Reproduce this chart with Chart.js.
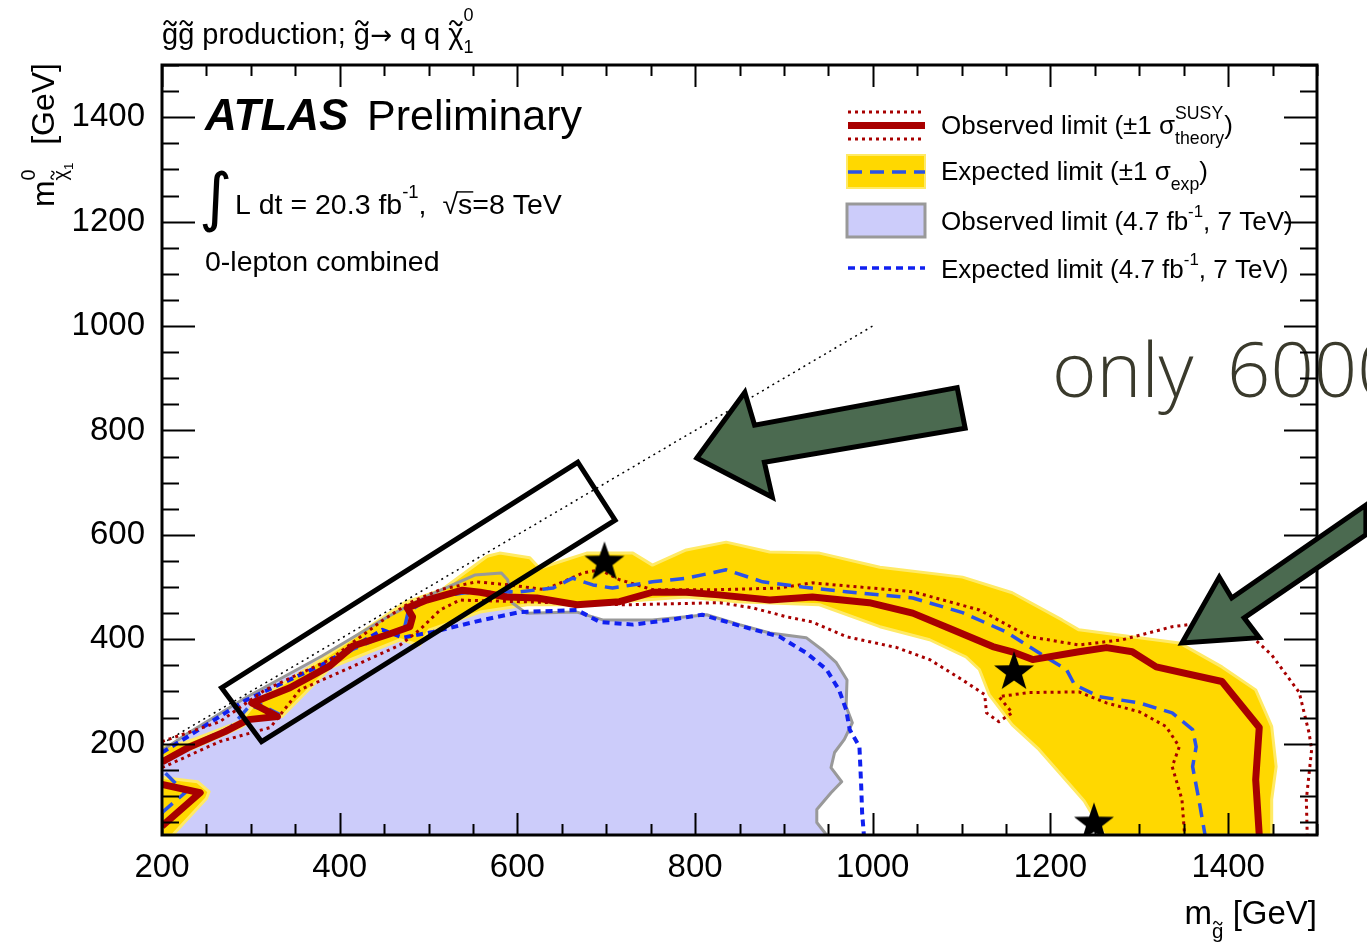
<!DOCTYPE html>
<html>
<head>
<meta charset="utf-8">
<script src="https://cdn.jsdelivr.net/npm/chart.js@4/dist/chart.umd.min.js"></script>
<style>
  html, body { margin: 0; padding: 0; background: #fff; overflow: hidden; }
</style>
</head>
<body>
<canvas id="limitChart" width="1367" height="943"></canvas>
<script>
// axis ranges and tick labels (GeV)
const xTickLabels = [200, 400, 600, 800, 1000, 1200, 1400];
const yTickLabels = [200, 400, 600, 800, 1000, 1200, 1400];

// contours as [m_gluino, m_neutralino] in GeV
const kinematicLimit = [[200, 200], [1000, 1000]];

const obs7TeV = [[200,187],[222,212],[293,287],[380,368],[454,443],[498,482],[552,523],[582,527],[589,514],[594,470],[610,450],[667,452],[696,437],[752,437],[790,443],[813,447],[850,428],[884,412],[925,403],[943,380],[959,355],[971,322],[970,271],[977,240],[968,208],[957,183],[953,154],[965,127],[953,106],[937,74],[937,49],[948,25]];

const exp7TeV = [[200,183],[222,206],[293,282],[381,352],[448,418],[471,403],[505,414],[561,437],[603,452],[667,456],[693,433],[730,428],[771,437],[808,447],[850,426],[895,405],[925,374],[948,342],[962,303],[970,265],[974,227],[985,194],[986,156],[987,118],[988,68],[990,25]];

const expBandUpper = [[200,192],[229,204],[288,242],[308,284],[387,370],[473,470],[515,495],[566,559],[580,565],[614,556],[625,536],[678,565],[730,565],[752,542],[790,571],[835,586],[884,567],[940,565],[1008,538],[1101,519],[1157,489],[1213,437],[1232,418],[1300,403],[1345,393],[1393,347],[1431,303],[1449,233],[1454,156],[1449,93],[1449,25]];
const expBandLower = [[1261,25],[1238,90],[1187,189],[1157,236],[1131,294],[1120,342],[1105,366],[1064,399],[1008,424],[940,466],[847,472],[790,481],[715,472],[667,466],[611,466],[558,452],[501,418],[490,389],[468,399],[389,345],[335,252],[305,250],[288,231],[232,189],[200,173]];
const expBandCorner = [[200,25],[212,25],[250,95],[253,108],[240,127],[200,135]];

const expLimit = [[200,166],[232,196],[277,231],[299,273],[331,257],[305,280],[350,311],[389,353],[414,380],[451,407],[473,422],[477,452],[501,479],[541,489],[603,491],[640,498],[662,517],[685,504],[707,498],[752,510],[790,517],[835,533],[876,510],[921,500],[970,491],[1045,479],[1101,451],[1150,414],[1187,374],[1218,342],[1227,313],[1255,290],[1300,278],[1337,259],[1360,227],[1364,194],[1360,156],[1367,93],[1374,25]];
const expLimitCorner = [[200,68],[226,106],[203,145]];

const obsLimit = [[200,165],[229,192],[271,223],[297,246],[330,252],[301,278],[344,307],[389,349],[415,387],[456,410],[479,424],[482,443],[476,460],[498,475],[538,494],[558,490],[588,481],[622,479],[667,466],[715,472],[752,490],[790,490],[827,485],[884,475],[932,481],[996,470],[1045,450],[1090,418],[1135,386],[1157,376],[1180,361],[1232,376],[1263,384],[1292,376],[1319,347],[1393,319],[1435,231],[1431,131],[1435,25]];
const obsLimitCorner = [[200,42],[243,106],[200,122]];

const obsUp = [[200,204],[265,242],[316,303],[389,361],[449,437],[479,470],[513,495],[554,510],[591,504],[631,495],[674,527],[693,533],[715,514],[752,495],[828,495],[895,498],[932,508],[1045,491],[1120,456],[1176,405],[1232,389],[1281,399],[1337,424],[1379,433],[1424,409],[1449,370],[1480,298],[1491,221],[1494,189],[1488,93],[1489,25]];
const obsDown = [[200,154],[265,204],[322,231],[355,303],[411,345],[468,389],[490,418],[513,456],[535,475],[603,472],[723,466],[828,470],[865,460],[903,443],[932,433],[970,405],[1027,384],[1064,361],[1101,322],[1126,294],[1128,259],[1142,242],[1157,259],[1142,290],[1176,298],[1232,299],[1263,278],[1300,261],[1330,233],[1345,194],[1337,156],[1348,93],[1351,25]];

const starPoints = [[698,551],[1159,341],[1249,51]];

// slide annotations, in the same GeV coordinates
const boxCorners = [[267,307],[668,739],[710,628],[312,204]];
const arrowLeft = [[802,747],[856,873],[867,810],[1095,882],[1104,804],[878,739],[887,672]];
const arrowRight = [[1348,393],[1390,519],[1404,479],[1555,657],[1555,600],[1418,441],[1435,403]];

const FONT = '"Liberation Sans", Arial, Helvetica, sans-serif';
const RED = '#a80000';
const YELLOW = '#ffd800';
const YELLOW_EDGE = '#ffea66';
const BLUE_EXP = '#2a52e8';
const BLUE_OLD = '#1020f0';
const LAVENDER = '#ccccfa';

const toPts = arr => arr.map(p => ({ x: p[0], y: p[1] }));

function makeStar(r) {
    const c = document.createElement('canvas');
    c.width = c.height = 2 * r + 2;
    const g = c.getContext('2d');
    g.beginPath();
    for (let i = 0; i < 10; i++) {
        const a = -Math.PI / 2 + i * Math.PI / 5;
        const rr = i % 2 ? r * 0.4 : r;
        g.lineTo(r + 1 + rr * Math.cos(a), r + 1 + rr * Math.sin(a) + r * 0.1);
    }
    g.closePath();
    g.fillStyle = '#000';
    g.fill();
    return c;
}

function lineSet(label, arr, color, width, dash, order) {
    return {
        label, data: toPts(arr), showLine: true, borderColor: color, borderWidth: width,
        borderDash: dash || [], borderJoinStyle: 'round', pointRadius: 0, fill: false, tension: 0, order
    };
}
function areaSet(label, arr, color, edge, order) {
    return { label, data: toPts(arr), showLine: false, pointRadius: 0, areaColor: color, areaEdge: edge, order };
}

// fills the closed polygon of datasets flagged with areaColor
const areaPlugin = {
    id: 'areaFill',
    beforeDatasetDraw(chart, args) {
        const ds = chart.data.datasets[args.index];
        if (!ds.areaColor) return;
        const ctx = chart.ctx, a = chart.chartArea;
        ctx.save();
        ctx.beginPath();
        ctx.rect(a.left, a.top, a.right - a.left, a.bottom - a.top);
        ctx.clip();
        ctx.beginPath();
        args.meta.data.forEach((pt, i) => i ? ctx.lineTo(pt.x, pt.y) : ctx.moveTo(pt.x, pt.y));
        ctx.closePath();
        ctx.fillStyle = ds.areaColor;
        ctx.fill();
        if (ds.areaEdge) {
            ctx.strokeStyle = ds.areaEdge;
            ctx.lineWidth = 3;
            ctx.lineJoin = 'round';
            ctx.stroke();
        }
        ctx.restore();
    }
};

function fontOf(p, base) {
    return (p.f || '') + ' ' + (base * (p.s || 1)).toFixed(1) + 'px ' + (p.ff || FONT);
}
function drawTilde(ctx, cx, cy, w) {
    const h = w * 0.28;
    ctx.save();
    ctx.lineWidth = Math.max(1.2, w * 0.16);
    ctx.beginPath();
    ctx.moveTo(cx - w / 2, cy + h / 2);
    ctx.bezierCurveTo(cx - w / 3, cy - h * 1.3, cx - w / 8, cy - h * 0.6, cx, cy);
    ctx.bezierCurveTo(cx + w / 8, cy + h * 0.6, cx + w / 3, cy + h * 1.3, cx + w / 2, cy - h / 2);
    ctx.stroke();
    ctx.restore();
}
function richWidth(ctx, parts, base) {
    let w = 0;
    for (const p of parts) {
        ctx.font = fontOf(p, base);
        if (p.adv !== false) w += ctx.measureText(p.t).width;
    }
    return w;
}
function drawRich(ctx, x, y, parts, base, align) {
    let cx = align === 'right' ? x - richWidth(ctx, parts, base) : x;
    for (const p of parts) {
        const size = base * (p.s || 1);
        ctx.font = fontOf(p, base);
        const tw = ctx.measureText(p.t).width;
        const by = y + (p.dy || 0) * base;
        ctx.fillText(p.t, cx, by);
        if (p.tilde) drawTilde(ctx, cx + tw / 2, by - size * 0.72, size * 0.42);
        if (p.over) {
            ctx.fillRect(cx - 1, by - size * 0.8, tw + 2, Math.max(1, size * 0.05));
        }
        if (p.adv !== false) cx += tw;
    }
}

const decorPlugin = {
    id: 'decor',
    afterDraw(chart) {
        const ctx = chart.ctx, xs = chart.scales.x, ys = chart.scales.y, a = chart.chartArea;
        const P = p => [xs.getPixelForValue(p[0]), ys.getPixelForValue(p[1])];

        // slide text, partly cut by the page edge
        ctx.save();
        ctx.fillStyle = '#3a3a2c';
        ctx.font = '300 76px "Open Sans", "Noto Sans", sans-serif';
        ctx.textBaseline = 'alphabetic';
        ctx.fillText('only', 1052, 397);
        ctx.fillText('6000', 1227, 397);
        ctx.restore();

        // frame and ROOT-style inner ticks
        ctx.save();
        ctx.strokeStyle = '#000';
        ctx.lineWidth = 2;
        for (let v = 200; v <= 1500; v += 50) {
            const px = Math.round(xs.getPixelForValue(v)) + 0.5;
            const len = v % 200 === 0 ? 22 : 11;
            ctx.beginPath();
            ctx.moveTo(px, a.bottom); ctx.lineTo(px, a.bottom - len);
            ctx.moveTo(px, a.top); ctx.lineTo(px, a.top + len);
            ctx.stroke();
        }
        for (let v = 50; v <= 1500; v += 50) {
            const py = Math.round(ys.getPixelForValue(v)) + 0.5;
            const len = v % 200 === 0 ? 33 : 17;
            ctx.beginPath();
            ctx.moveTo(a.left, py); ctx.lineTo(a.left + len, py);
            ctx.moveTo(a.right, py); ctx.lineTo(a.right - len, py);
            ctx.stroke();
        }
        ctx.lineWidth = 3;
        ctx.strokeRect(a.left, a.top, a.right - a.left, a.bottom - a.top);
        ctx.restore();

        // annotation box and arrows
        ctx.save();
        ctx.lineJoin = 'miter';
        ctx.strokeStyle = '#000';
        ctx.lineWidth = 5;
        ctx.beginPath();
        boxCorners.forEach((p, i) => { const q = P(p); i ? ctx.lineTo(q[0], q[1]) : ctx.moveTo(q[0], q[1]); });
        ctx.closePath();
        ctx.stroke();
        [arrowLeft, arrowRight].forEach(arr => {
            ctx.beginPath();
            arr.forEach((p, i) => { const q = P(p); i ? ctx.lineTo(q[0], q[1]) : ctx.moveTo(q[0], q[1]); });
            ctx.closePath();
            ctx.fillStyle = '#4b6a50';
            ctx.fill();
            ctx.lineWidth = 5;
            ctx.stroke();
        });
        ctx.restore();

        // texts
        ctx.save();
        ctx.fillStyle = '#000';
        ctx.strokeStyle = '#000';
        ctx.textBaseline = 'alphabetic';

        drawRich(ctx, 162, 44, [
            { t: 'g', tilde: 1 }, { t: 'g', tilde: 1 }, { t: ' production; ' }, { t: 'g', tilde: 1 },
            { t: '\u2192', ff: '"DejaVu Sans", sans-serif', s: 0.9 }, { t: ' q q ' }, { t: '\u03c7', tilde: 1 },
            { t: '0', s: 0.62, dy: -0.8, adv: false }, { t: '1', s: 0.62, dy: 0.32 }
        ], 29);

        ctx.font = 'italic bold 44px ' + FONT;
        ctx.fillText('ATLAS', 205, 130);
        ctx.font = '43px ' + FONT;
        ctx.fillText('Preliminary', 367, 130);

        ctx.font = '64px "DejaVu Sans", sans-serif';
        ctx.fillText('\u222b', 199, 219);
        drawRich(ctx, 235, 214, [
            { t: 'L dt = 20.3 fb' }, { t: '-1', s: 0.65, dy: -0.55 }, { t: ',  ' },
            { t: '\u221a' }, { t: 's', over: 1 }, { t: '=8 TeV' }
        ], 28.5);
        ctx.font = '28.5px ' + FONT;
        ctx.fillText('0-lepton combined', 205, 271);

        // legend
        ctx.save();
        ctx.lineCap = 'butt';
        ctx.strokeStyle = RED;
        ctx.lineWidth = 3;
        ctx.setLineDash([3, 4]);
        ctx.beginPath();
        ctx.moveTo(848, 112); ctx.lineTo(925, 112);
        ctx.moveTo(848, 139); ctx.lineTo(925, 139);
        ctx.stroke();
        ctx.setLineDash([]);
        ctx.lineWidth = 7;
        ctx.beginPath(); ctx.moveTo(848, 125.5); ctx.lineTo(925, 125.5); ctx.stroke();

        ctx.fillStyle = YELLOW;
        ctx.fillRect(847, 155, 78, 33);
        ctx.strokeStyle = YELLOW_EDGE;
        ctx.lineWidth = 2;
        ctx.strokeRect(847, 155, 78, 33);
        ctx.strokeStyle = BLUE_EXP;
        ctx.lineWidth = 3.5;
        ctx.setLineDash([14, 8]);
        ctx.beginPath(); ctx.moveTo(848, 172); ctx.lineTo(925, 172); ctx.stroke();
        ctx.setLineDash([]);

        ctx.fillStyle = LAVENDER;
        ctx.fillRect(847, 204, 78, 33);
        ctx.strokeStyle = '#999';
        ctx.lineWidth = 3;
        ctx.strokeRect(847, 204, 78, 33);

        ctx.strokeStyle = BLUE_OLD;
        ctx.lineWidth = 3.5;
        ctx.setLineDash([7, 5]);
        ctx.beginPath(); ctx.moveTo(848, 268); ctx.lineTo(925, 268); ctx.stroke();
        ctx.restore();

        drawRich(ctx, 941, 134, [
            { t: 'Observed limit (\u00b11 \u03c3' },
            { t: 'SUSY', s: 0.68, dy: -0.58, adv: false }, { t: 'theory', s: 0.68, dy: 0.38 }, { t: ')' }
        ], 26);
        drawRich(ctx, 941, 180, [
            { t: 'Expected limit (\u00b11 \u03c3' }, { t: 'exp', s: 0.68, dy: 0.38 }, { t: ')' }
        ], 26);
        drawRich(ctx, 941, 230, [
            { t: 'Observed limit (4.7 fb' }, { t: '-1', s: 0.65, dy: -0.5 }, { t: ', 7 TeV)' }
        ], 26);
        drawRich(ctx, 941, 278, [
            { t: 'Expected limit (4.7 fb' }, { t: '-1', s: 0.65, dy: -0.5 }, { t: ', 7 TeV)' }
        ], 26);

        // axis titles
        drawRich(ctx, a.right, 924, [
            { t: 'm' }, { t: 'g', s: 0.62, dy: 0.42, tilde: 1 }, { t: ' [GeV]' }
        ], 33, 'right');
        ctx.save();
        ctx.translate(54, a.top - 2);
        ctx.rotate(-Math.PI / 2);
        drawRich(ctx, 0, 0, [
            { t: 'm' }, { t: '0', s: 0.62, dy: -0.6, adv: false },
            { t: '\u03c7', s: 0.62, dy: 0.4, tilde: 1 }, { t: '1', s: 0.42, dy: 0.58 }, { t: '  [GeV]' }
        ], 32, 'right');
        ctx.restore();
        ctx.restore();
    }
};

const star = makeStar(21);

const chart = new Chart(document.getElementById('limitChart'), {
    type: 'scatter',
    data: {
        datasets: [
            areaSet('Observed limit (4.7 fb-1, 7 TeV) area', [[200, 25]].concat(obs7TeV), LAVENDER, null, 20),
            areaSet('Expected band', expBandUpper.concat(expBandLower), YELLOW, YELLOW_EDGE, 19),
            areaSet('Expected band corner', expBandCorner, YELLOW, YELLOW_EDGE, 18),
            lineSet('Observed limit (4.7 fb-1, 7 TeV)', obs7TeV, '#999999', 3, [], 17),
            lineSet('Expected limit (4.7 fb-1, 7 TeV)', exp7TeV, BLUE_OLD, 4, [7, 5], 16),
            lineSet('kinematic limit', kinematicLimit, '#000', 1.5, [2, 4], 15),
            lineSet('Observed +1 sigma', obsUp, RED, 3, [3, 4], 14),
            lineSet('Observed -1 sigma', obsDown, RED, 3, [3, 4], 14),
            lineSet('Expected limit', expLimit, BLUE_EXP, 3.5, [14, 8], 13),
            lineSet('Expected limit corner', expLimitCorner, BLUE_EXP, 3.5, [14, 8], 13),
            lineSet('Observed limit', obsLimit, RED, 7, [], 12),
            lineSet('Observed limit corner', obsLimitCorner, RED, 7, [], 12),
            { label: 'benchmarks', data: toPts(starPoints), showLine: false, pointStyle: star, pointRadius: 21, order: 1 }
        ]
    },
    options: {
        responsive: false,
        animation: false,
        events: [],
        layout: { padding: { left: 0, right: 50, top: 65, bottom: 0 } },
        plugins: { legend: { display: false }, tooltip: { enabled: false } },
        scales: {
            x: {
                type: 'linear', min: 200, max: 1500,
                grid: { display: false, drawTicks: false },
                border: { display: false },
                afterBuildTicks: axis => { axis.ticks = xTickLabels.map(v => ({ value: v })); },
                afterFit: axis => { axis.height = 108; },
                ticks: {
                    font: { family: 'Liberation Sans', size: 33 }, color: '#000', padding: 13,
                    maxRotation: 0, autoSkip: false, callback: v => String(v)
                }
            },
            y: {
                type: 'linear', min: 25, max: 1500,
                grid: { display: false, drawTicks: false },
                border: { display: false },
                afterBuildTicks: axis => { axis.ticks = yTickLabels.map(v => ({ value: v })); },
                afterFit: axis => { axis.width = 162; },
                ticks: {
                    font: { family: 'Liberation Sans', size: 33 }, color: '#000', padding: 17,
                    autoSkip: false, callback: v => String(v)
                }
            }
        }
    },
    plugins: [areaPlugin, decorPlugin]
});
</script>
</body>
</html>
